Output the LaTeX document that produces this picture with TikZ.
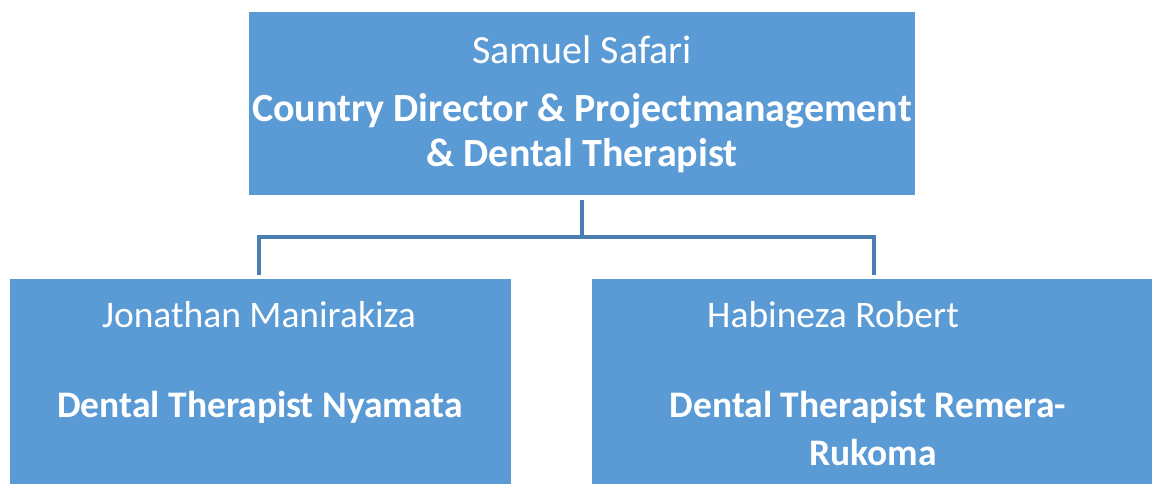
\documentclass[tikz,border=0pt]{standalone}
\usepackage{fontspec}
\setmainfont{Carlito}
\definecolor{boxblue}{HTML}{5B9BD5}
\definecolor{linkblue}{HTML}{4A7EB2}
\tikzset{
  orgbox/.style={draw=none, fill=boxblue, inner sep=0pt, outer sep=0pt},
  topname/.style={text=white, font=\fontsize{40}{48}\selectfont, inner sep=0pt, anchor=center},
  toprole/.style={text=white, font=\bfseries\fontsize{40}{48}\selectfont, inner sep=0pt, anchor=center},
  nametext/.style={text=white, font=\fontsize{37.5}{45}\selectfont, inner sep=0pt, anchor=center},
  roletext/.style={text=white, font=\bfseries\fontsize{37.5}{45}\selectfont, inner sep=0pt, anchor=center},
  link/.style={draw=linkblue, line width=4pt}
}
\begin{document}
\begin{tikzpicture}[x=1pt,y=-1pt]
\useasboundingbox (0,0) rectangle (1153,484);
\node[orgbox, minimum width=666pt, minimum height=183pt] (top) at (582,103.5) {};
\node[orgbox, minimum width=501pt, minimum height=205pt] (left) at (260.5,381.5) {};
\node[orgbox, minimum width=560pt, minimum height=205pt] (right) at (872,381.5) {};
\node[topname] (topnm) at (582,50) {Samuel Safari};
\node[toprole] (toprole1) at (582,111) {Country Director \& Projectmanagement};
\node[toprole] (toprole2) at (582,156) {\& Dental Therapist};
\node[nametext] (leftname) at (259,315) {Jonathan Manirakiza};
\node[roletext] (leftrole) at (260,407) {Dental Therapist Nyamata};
\node[nametext] (rightname) at (833,315) {Habineza Robert};
\node[roletext] (rightrole1) at (868,407) {Dental Therapist Remera-};
\node[roletext] (rightrole2) at (873,452) {Rukoma};
\coordinate (a) at (582,200);
\coordinate (b) at (582,237);
\coordinate (bl) at (259,237);
\coordinate (br) at (874,237);
\coordinate (cl) at (259,275);
\coordinate (cr) at (874,275);
\draw[link] (a) -- (b);
\draw[link] (cl) -- (bl) -- (br) -- (cr);
\end{tikzpicture}
\end{document}
